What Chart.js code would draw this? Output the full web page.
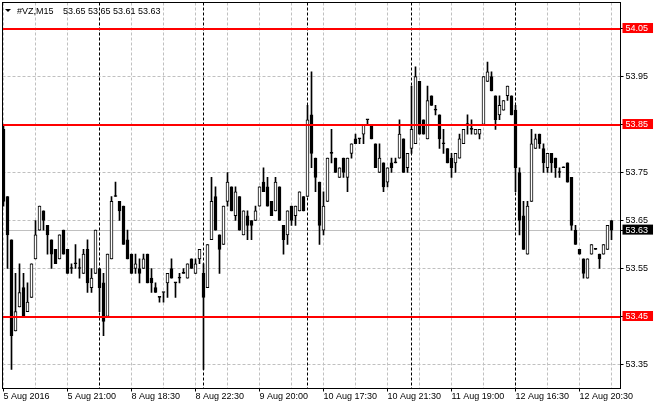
<!DOCTYPE html>
<html>
<head>
<meta charset="utf-8">
<title>#VZ,M15</title>
<script src="https://cdn.jsdelivr.net/npm/chart.js@4.4.1/dist/chart.umd.min.js"></script>
<style>
  html, body { margin: 0; padding: 0; background: #fff; }
  canvas { display: block; }
</style>
</head>
<body>
<canvas id="chart" width="660" height="410"></canvas>
<script>
/* ============================================
   #VZ M15 candles, MetaTrader look
   ============================================ */

const symbolName = '#VZ,M15';

const opens = [
  53.84, 53.70, 53.61, 53.42, 53.47, 53.51, 53.46, 53.49, 53.57, 53.63,
  53.67, 53.64, 53.61, 53.59, 53.57, 53.63, 53.59, 53.55, 53.56, 53.55,
  53.54, 53.59, 53.51, 53.54, 53.55, 53.52, 53.45, 53.57, 53.70, 53.69,
  53.68, 53.61, 53.58, 53.55, 53.55, 53.55, 53.58, 53.53, 53.51, 53.49,
  53.50, 53.52, 53.55, 53.52, 53.53, 53.54, 53.53, 53.57, 53.54, 53.57,
  53.54, 53.51, 53.61, 53.70, 53.62, 53.60, 53.69, 53.72, 53.66, 53.70,
  53.62, 53.66, 53.65, 53.65, 53.68, 53.73, 53.72, 53.69, 53.67, 53.72,
  53.64, 53.62, 53.68, 53.66, 53.67, 53.70, 53.70, 53.87, 53.78, 53.73,
  53.63, 53.69, 53.79, 53.78, 53.74, 53.78, 53.74, 53.79, 53.82, 53.82,
  53.83, 53.86, 53.85, 53.81, 53.75, 53.77, 53.73, 53.77, 53.77, 53.78,
  53.82, 53.76, 53.80, 53.81, 53.94, 53.86, 53.82, 53.91, 53.88, 53.87,
  53.81, 53.80, 53.78, 53.77, 53.78, 53.81, 53.85, 53.84, 53.83, 53.83,
  53.85, 53.94, 53.95, 53.91, 53.87, 53.88, 53.91, 53.91, 53.88, 53.75,
  53.66, 53.58, 53.69, 53.80, 53.83, 53.80, 53.76, 53.79, 53.78, 53.75,
  53.76, 53.77, 53.74, 53.63, 53.59, 53.57, 53.53, 53.58, 53.59, 53.58,
  53.58, 53.59, 53.65
];
const highs = [
  53.85, 53.70, 53.61, 53.54, 53.56, 53.54, 53.52, 53.56, 53.65, 53.68,
  53.67, 53.64, 53.61, 53.59, 53.62, 53.63, 53.59, 53.56, 53.60, 53.57,
  53.59, 53.61, 53.55, 53.63, 53.55, 53.54, 53.58, 53.70, 53.73, 53.69,
  53.68, 53.63, 53.58, 53.58, 53.57, 53.58, 53.58, 53.55, 53.52, 53.49,
  53.50, 53.54, 53.57, 53.52, 53.54, 53.55, 53.56, 53.57, 53.57, 53.59,
  53.56, 53.60, 53.74, 53.72, 53.62, 53.68, 53.75, 53.72, 53.72, 53.70,
  53.67, 53.67, 53.65, 53.68, 53.72, 53.76, 53.74, 53.69, 53.74, 53.72,
  53.64, 53.67, 53.68, 53.68, 53.71, 53.70, 53.89, 53.96, 53.78, 53.73,
  53.71, 53.78, 53.84, 53.78, 53.76, 53.78, 53.78, 53.81, 53.83, 53.82,
  53.85, 53.86, 53.85, 53.81, 53.81, 53.77, 53.76, 53.78, 53.78, 53.86,
  53.82, 53.79, 53.93, 53.97, 53.94, 53.86, 53.93, 53.91, 53.89, 53.87,
  53.84, 53.80, 53.79, 53.79, 53.83, 53.84, 53.87, 53.86, 53.84, 53.84,
  53.95, 53.98, 53.96, 53.91, 53.91, 53.90, 53.93, 53.91, 53.89, 53.76,
  53.69, 53.69, 53.84, 53.83, 53.83, 53.81, 53.79, 53.79, 53.78, 53.76,
  53.76, 53.77, 53.74, 53.64, 53.59, 53.57, 53.57, 53.60, 53.59, 53.58,
  53.60, 53.64, 53.65
];
const lows = [
  53.68, 53.55, 53.34, 53.42, 53.47, 53.45, 53.46, 53.49, 53.57, 53.63,
  53.63, 53.58, 53.55, 53.56, 53.57, 53.58, 53.54, 53.54, 53.55, 53.53,
  53.54, 53.50, 53.50, 53.54, 53.46, 53.41, 53.45, 53.57, 53.70, 53.65,
  53.60, 53.57, 53.54, 53.54, 53.52, 53.55, 53.52, 53.50, 53.50, 53.48,
  53.48, 53.49, 53.53, 53.49, 53.52, 53.54, 53.53, 53.55, 53.54, 53.56,
  53.34, 53.51, 53.61, 53.63, 53.54, 53.60, 53.68, 53.67, 53.65, 53.63,
  53.62, 53.61, 53.61, 53.65, 53.68, 53.71, 53.68, 53.66, 53.67, 53.65,
  53.58, 53.60, 53.64, 53.64, 53.67, 53.67, 53.70, 53.76, 53.71, 53.60,
  53.62, 53.69, 53.77, 53.75, 53.74, 53.74, 53.71, 53.78, 53.81, 53.81,
  53.81, 53.85, 53.82, 53.76, 53.75, 53.71, 53.72, 53.75, 53.77, 53.78,
  53.75, 53.75, 53.79, 53.81, 53.83, 53.83, 53.82, 53.89, 53.87, 53.80,
  53.79, 53.77, 53.74, 53.75, 53.78, 53.81, 53.83, 53.83, 53.83, 53.82,
  53.85, 53.94, 53.92, 53.84, 53.86, 53.88, 53.90, 53.87, 53.71, 53.62,
  53.59, 53.58, 53.69, 53.80, 53.80, 53.75, 53.75, 53.75, 53.74, 53.74,
  53.76, 53.73, 53.63, 53.60, 53.58, 53.53, 53.53, 53.58, 53.59, 53.55,
  53.58, 53.59, 53.61
];
const closes = [
  53.69, 53.62, 53.41, 53.46, 53.50, 53.45, 53.48, 53.56, 53.62, 53.68,
  53.65, 53.62, 53.58, 53.56, 53.62, 53.58, 53.54, 53.55, 53.56, 53.55,
  53.58, 53.52, 53.53, 53.63, 53.51, 53.44, 53.58, 53.69, 53.70, 53.67,
  53.60, 53.57, 53.54, 53.56, 53.54, 53.57, 53.52, 53.52, 53.50, 53.49,
  53.50, 53.54, 53.53, 53.52, 53.53, 53.54, 53.56, 53.55, 53.56, 53.59,
  53.49, 53.60, 53.69, 53.63, 53.59, 53.68, 53.73, 53.67, 53.71, 53.63,
  53.67, 53.64, 53.64, 53.67, 53.72, 53.71, 53.68, 53.66, 53.73, 53.65,
  53.61, 53.67, 53.65, 53.68, 53.71, 53.67, 53.86, 53.79, 53.74, 53.64,
  53.68, 53.78, 53.79, 53.75, 53.76, 53.75, 53.78, 53.81, 53.81, 53.82,
  53.85, 53.86, 53.82, 53.76, 53.78, 53.72, 53.76, 53.76, 53.77, 53.83,
  53.75, 53.79, 53.84, 53.95, 53.83, 53.83, 53.90, 53.89, 53.88, 53.82,
  53.81, 53.77, 53.76, 53.79, 53.82, 53.84, 53.85, 53.84, 53.84, 53.84,
  53.95, 53.96, 53.92, 53.86, 53.89, 53.90, 53.93, 53.87, 53.76, 53.65,
  53.59, 53.68, 53.81, 53.82, 53.81, 53.77, 53.79, 53.77, 53.76, 53.75,
  53.76, 53.73, 53.64, 53.60, 53.58, 53.54, 53.57, 53.60, 53.59, 53.57,
  53.60, 53.64, 53.63
];

/* time labels and the bar each one sits on */
const timeLabels = ['5 Aug 2016', '5 Aug 21:00', '8 Aug 18:30', '8 Aug 22:30', '9 Aug 20:00',
  '10 Aug 17:30', '10 Aug 21:30', '11 Aug 19:00', '12 Aug 16:30', '12 Aug 20:30'];
const labelBars = [0, 16, 32, 48, 64, 80, 96, 112, 128, 144];

/* first bar of each trading day (period separators) */
const dayStarts = [24, 50, 76, 102, 128];

const priceTicks = [53.35, 53.45, 53.55, 53.65, 53.75, 53.85, 53.95, 54.05];
const levels = [54.05, 53.85, 53.45];

const n = closes.length;
const last = n - 1;
const bid = closes[last];

const gridBars = [];
for (let i = 0; i < n; i += 8) gridBars.push(i);

const bodies = closes.map((c, i) => ({ x: i, y: [opens[i], c] }));
const wicks = closes.map((c, i) => ({ x: i, y: [lows[i], highs[i]] }));

Chart.defaults.font.family = '"Liberation Sans", Arial, sans-serif';
Chart.defaults.font.size = 9;
Chart.defaults.color = '#000';

const GRID = '#c0c0c0';

const overlays = {
  id: 'overlays',
  beforeDatasetsDraw(chart) {
    const { ctx, chartArea: a, scales: { x, y } } = chart;
    ctx.save();
    // bid line
    const by = Math.round(y.getPixelForValue(bid)) + 0.5;
    ctx.strokeStyle = GRID;
    ctx.lineWidth = 1;
    ctx.beginPath();
    ctx.moveTo(a.left, by);
    ctx.lineTo(a.right, by);
    ctx.stroke();
    // day separators
    ctx.strokeStyle = '#000';
    ctx.setLineDash([3, 2]);
    dayStarts.forEach(i => {
      const px = x.getPixelForValue(i);
      ctx.beginPath();
      ctx.moveTo(px, a.top);
      ctx.lineTo(px, a.bottom);
      ctx.stroke();
    });
    ctx.restore();
  },
  afterDatasetsDraw(chart) {
    const { ctx, chartArea: a, scales: { y } } = chart;
    ctx.save();
    ctx.strokeStyle = '#ff0000';
    ctx.lineWidth = 2;
    levels.forEach(v => {
      const py = Math.round(y.getPixelForValue(v));
      ctx.beginPath();
      ctx.moveTo(a.left, py);
      ctx.lineTo(a.right, py);
      ctx.stroke();
    });
    ctx.restore();
  },
  afterDraw(chart) {
    const { ctx, chartArea: a } = chart;
    ctx.save();
    ctx.strokeStyle = '#000';
    ctx.lineWidth = 1;
    ctx.strokeRect(a.left, a.top, a.right - a.left, a.bottom - a.top);

    // header: arrow, symbol, OHLC of the last bar
    ctx.fillStyle = '#000';
    ctx.beginPath();
    ctx.moveTo(5, 9);
    ctx.lineTo(11, 9);
    ctx.lineTo(8, 12);
    ctx.closePath();
    ctx.fill();
    ctx.font = '9px "Liberation Sans", Arial, sans-serif';
    ctx.textBaseline = 'alphabetic';
    ctx.fillText(symbolName, 17, 14);
    const ohlc = [opens[last], highs[last], lows[last], closes[last]].map(v => v.toFixed(2)).join(' ');
    ctx.fillText(ohlc, 63, 14);
    ctx.restore();
  }
};

const isBoxed = v => levels.includes(v) || v === bid;

new Chart(document.getElementById('chart'), {
  type: 'bar',
  data: {
    datasets: [
      {
        label: 'body',
        data: bodies,
        grouped: false,
        barThickness: 3,
        minBarLength: 1,
        borderWidth: 1,
        borderSkipped: false,
        borderColor: '#000',
        backgroundColor: c => closes[c.dataIndex] > opens[c.dataIndex] ? '#fff' : '#000'
      },
      {
        label: 'wick',
        data: wicks,
        grouped: false,
        barThickness: 1,
        minBarLength: 1,
        borderWidth: 0,
        backgroundColor: '#000'
      }
    ]
  },
  plugins: [overlays],
  options: {
    responsive: false,
    animation: false,
    events: [],
    layout: { padding: { left: 2.5, top: 2.5, right: 0, bottom: 0 } },
    plugins: {
      legend: { display: false },
      tooltip: { enabled: false }
    },
    scales: {
      x: {
        type: 'linear',
        min: -0.25,
        max: 154.25,
        offset: false,
        afterBuildTicks: s => { s.ticks = gridBars.map(v => ({ value: v })); },
        afterFit: s => {
          s.height = 21.5;
          s.paddingLeft = 0;
          s.paddingRight = 0;
        },
        grid: {
          color: GRID,
          offset: false,
          tickLength: 3,
          tickColor: c => labelBars.includes(c.tick.value) ? '#000' : 'rgba(0,0,0,0)'
        },
        border: { display: false, dash: [3, 2] },
        ticks: {
          autoSkip: false,
          maxRotation: 0,
          minRotation: 0,
          align: 'start',
          padding: 0,
          color: '#000',
          callback: v => {
            const k = labelBars.indexOf(v);
            return k >= 0 ? timeLabels[k] : '';
          }
        }
      },
      y: {
        type: 'linear',
        position: 'right',
        min: 53.30,
        max: 54.1042,
        afterBuildTicks: s => {
          s.ticks = priceTicks.concat([bid]).sort((p, q) => p - q).map(v => ({ value: v }));
        },
        afterFit: s => {
          s.width = 39.5;
          s.paddingTop = 0;
          s.paddingBottom = 0;
        },
        grid: {
          color: c => c.tick && c.tick.value === bid ? 'rgba(0,0,0,0)' : GRID,
          tickLength: 3,
          tickColor: '#000'
        },
        border: { display: false, dash: [3, 2] },
        ticks: {
          autoSkip: false,
          padding: 2,
          font: { lineHeight: 1 },
          color: c => isBoxed(c.tick.value) ? '#fff' : '#000',
          showLabelBackdrop: c => isBoxed(c.tick.value),
          backdropColor: c => c.tick.value === bid ? '#000' : '#ff0000',
          backdropPadding: { left: 3, right: 5, top: 1, bottom: 0 },
          callback: v => v.toFixed(2)
        }
      }
    }
  }
});
</script>
</body>
</html>
